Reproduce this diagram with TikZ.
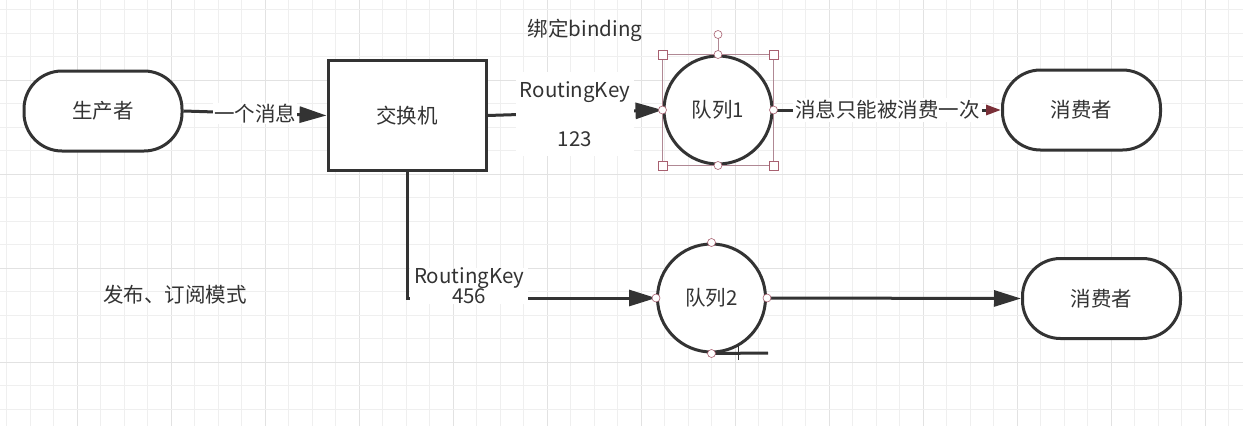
\documentclass[tikz,border=0pt]{standalone}
\usepackage{fontspec}
\setmainfont{Noto Sans CJK SC}
\usetikzlibrary{arrows.meta}
\definecolor{ink}{HTML}{333333}
\definecolor{gridc}{HTML}{EFEFEF}
\definecolor{gridm}{HTML}{E2E2E2}
\definecolor{selc}{HTML}{B08894}
\definecolor{hdlc}{HTML}{A86070}
\definecolor{redtip}{HTML}{7A3038}
\tikzset{
  term/.style={draw=ink, line width=3pt, rounded corners=38pt, minimum width=158pt, minimum height=80pt, font=\fontsize{20.5}{24}\selectfont, text=ink, fill=white},
  boxnode/.style={draw=ink, line width=3pt, minimum width=158pt, minimum height=110pt, font=\fontsize{20.5}{24}\selectfont, text=ink, fill=white},
  queue/.style={draw=ink, line width=3pt, circle, minimum size=108pt, inner sep=0pt, font=\fontsize{20.5}{24}\selectfont, text=ink, fill=white},
  conn/.style={draw=ink, line width=3pt},
  tip/.style={-{Triangle[length=27pt,width=16pt]}},
  lbl/.style={fill=white, text=ink, font=\fontsize{20.5}{24}\selectfont, inner sep=1pt},
  plain/.style={text=ink, font=\fontsize{20.5}{24}\selectfont},
  handle/.style={circle, draw=hdlc, fill=white, line width=0.6pt, minimum size=8pt, inner sep=0pt},
  sqhandle/.style={rectangle, draw=hdlc, fill=white, line width=0.6pt, minimum size=9pt, inner sep=0pt},
}
\begin{document}
\begin{tikzpicture}[x=1pt, y=-1pt]
\useasboundingbox (0,0) rectangle (1243,426);
\fill[white] (0,0) rectangle (1243,426);
% grid
\foreach \k in {0,...,52} {
  \pgfmathtruncatemacro{\m}{mod(\k,4)}
  \ifnum\m=3 \draw[gridm, line width=0.8pt] (6.5+23.5*\k,0) -- (6.5+23.5*\k,426);
  \else \draw[gridc, line width=0.8pt] (6.5+23.5*\k,0) -- (6.5+23.5*\k,426); \fi
}
\foreach \k in {0,...,17} {
  \pgfmathtruncatemacro{\m}{mod(\k,4)}
  \ifnum\m=3 \draw[gridm, line width=0.8pt] (0,9.5+23.5*\k) -- (1243,9.5+23.5*\k);
  \else \draw[gridc, line width=0.8pt] (0,9.5+23.5*\k) -- (1243,9.5+23.5*\k); \fi
}

% nodes
\node[term] (prod) at (103,111) {生产者};
\node[boxnode] (ex) at (407,115.5) {交换机};
\node[queue] (q1) at (718,110) {队列1};
\node[term] (c1) at (1081.5,110) {消费者};
\node[queue] (q2) at (711.5,298) {队列2};
\node[term] (c2) at (1101.5,298.5) {消费者};

\node[plain] (bind) at (585,30) {绑定binding};
\node[plain] (mode) at (175,295) {发布、订阅模式};

% connectors
\draw[conn, tip] (prod.east) -- node[lbl] (m1) {一个消息} (ex.west);
\draw[conn, tip] (ex.east) -- node[lbl, minimum width=118pt, minimum height=84pt, align=center, yshift=-1pt] (rk1) {RoutingKey\\[25pt]123} (q1.west);
\draw[conn, -{Triangle[length=15pt,width=10pt,color=redtip]}] (q1.east) -- node[lbl, inner sep=2pt] (m2) {消息只能被消费一次} (c1.west);
\draw[conn, tip] (ex.south) |- node[lbl, pos=0.625, yshift=12pt, align=center, minimum width=118pt, inner sep=0pt] (rk2) {RoutingKey\\[-4pt]456} (q2.west);
\draw[conn, tip] (q2.east) -- (c2.west);

% stray segment and cursor at queue 2 bottom
\coordinate (stray) at (768,353);
\draw[conn] (q2.south) -- (stray);
\coordinate (cur) at (738,352);
\draw[ink, line width=0.8pt] ([xshift=-8pt]cur) -- ([xshift=8pt]cur) ([yshift=-8pt]cur) -- ([yshift=8pt]cur);

% selection handles on queue 1
\coordinate (nw) at (q1.west |- q1.north);
\coordinate (ne) at (q1.east |- q1.north);
\coordinate (sw) at (q1.west |- q1.south);
\coordinate (se) at (q1.east |- q1.south);
\draw[selc, line width=0.6pt] (nw) rectangle (se);
\draw[selc, line width=0.6pt] (q1.north) -- ++(0,-20) coordinate (rot);
\node[handle] at (rot) {};
\foreach \a in {nw, ne, sw, se} \node[sqhandle] at (\a) {};
\foreach \a in {north, south, east, west} \node[handle] at (q1.\a) {};
\foreach \a in {north, south, east, west} \node[handle] at (q2.\a) {};
\end{tikzpicture}
\end{document}
